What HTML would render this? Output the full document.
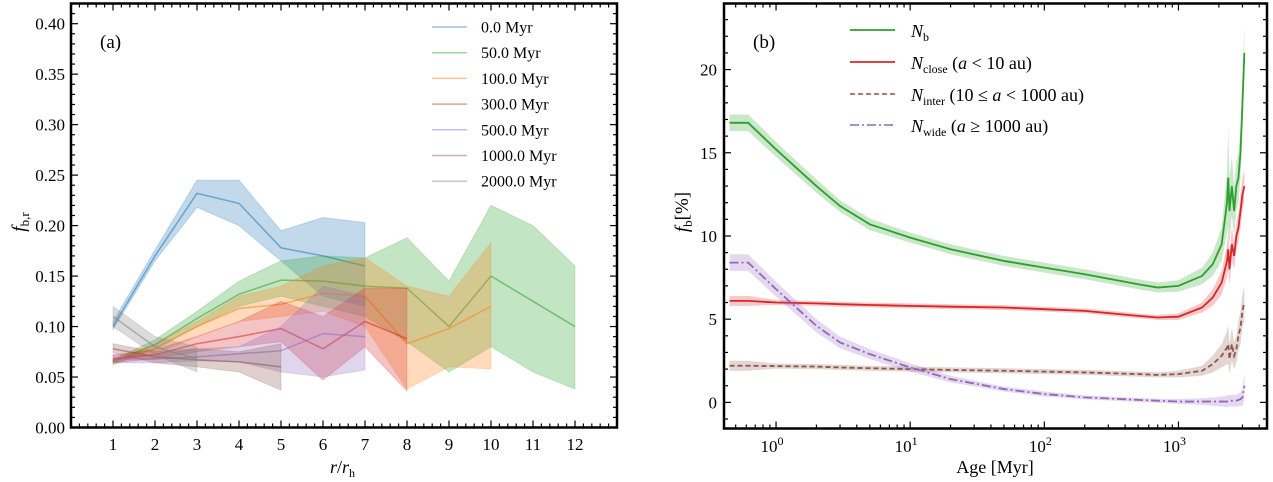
<!DOCTYPE html>
<html><head><meta charset="utf-8"><style>
html,body{margin:0;padding:0;background:#fff;}
svg{display:block;font-family:"Liberation Serif","DejaVu Serif",serif;}
</style></head><body>
<svg id="fig" width="1273" height="482" viewBox="0 0 1273 482" xmlns="http://www.w3.org/2000/svg">
<g id="pa"></g>
<g id="pb"></g>
</svg>
<script>
// ---------- Panel (a) data ----------
const seriesALabels = ["0.0 Myr","50.0 Myr","100.0 Myr","300.0 Myr","500.0 Myr","1000.0 Myr","2000.0 Myr"];
const seriesAColors = ["#1f77b4","#2ca02c","#ff7f0e","#d62728","#9467bd","#8c564b","#7f7f7f"];
const radiiA = [1,2,3,4,5,6,7,8,9,10,11,12];
const mean0 = [0.100,0.170,0.232,0.222,0.178,0.170,0.160];
const up0   = [0.105,0.176,0.245,0.245,0.195,0.208,0.203];
const lo0   = [0.097,0.165,0.218,0.200,0.165,0.130,0.120];
const mean50 = [0.065,0.082,0.108,0.132,0.146,0.145,0.140,0.138,0.100,0.150,0.125,0.100];
const up50   = [0.067,0.087,0.115,0.145,0.165,0.170,0.168,0.188,0.145,0.220,0.200,0.160];
const lo50   = [0.062,0.078,0.100,0.120,0.130,0.120,0.110,0.085,0.055,0.080,0.055,0.038];
const mean100 = [0.066,0.078,0.100,0.118,0.122,0.133,0.130,0.083,0.098,0.120];
const up100   = [0.068,0.083,0.105,0.130,0.140,0.160,0.168,0.140,0.130,0.183];
const lo100   = [0.064,0.073,0.090,0.105,0.110,0.115,0.100,0.038,0.060,0.058];
const mean300 = [0.068,0.072,0.083,0.090,0.098,0.078,0.105,0.088];
const up300   = [0.072,0.077,0.090,0.105,0.125,0.110,0.138,0.138];
const lo300   = [0.064,0.068,0.075,0.080,0.085,0.047,0.080,0.036];
const mean500 = [0.068,0.068,0.070,0.073,0.076,0.093,0.090];
const up500   = [0.072,0.072,0.078,0.080,0.100,0.140,0.130];
const lo500   = [0.064,0.064,0.066,0.065,0.055,0.050,0.057];
const mean1000 = [0.078,0.070,0.067,0.065,0.060];
const up1000   = [0.083,0.075,0.078,0.075,0.083];
const lo1000   = [0.074,0.064,0.060,0.055,0.037];
const mean2000 = [0.110,0.080,0.068];
const up2000   = [0.120,0.090,0.080];
const lo2000   = [0.100,0.072,0.055];
const xTicksA = [1,2,3,4,5,6,7,8,9,10,11,12];
const yTicksA = [0.00,0.05,0.10,0.15,0.20,0.25,0.30,0.35,0.40];

// ---------- Panel (b) data ----------
const ages = [0.45,0.62,1,2,3,5,10,20,50,100,200,500,700,1000,1500,1800,2100,2300,2350,2400,2500,2600,2700,2800,2900,3000,3100];
const nB     = [16.8,16.8,15.2,13.0,11.8,10.7,9.9,9.2,8.5,8.1,7.7,7.1,6.9,7.0,7.6,8.3,9.5,12,13.5,11.5,13,11.5,13,13.5,15,18,21];
const nClose = [6.1,6.1,6.0,5.95,5.9,5.85,5.8,5.75,5.7,5.6,5.5,5.2,5.1,5.15,5.7,6.3,7.2,8.5,9.2,8.0,9.5,8.8,10,10.5,11.5,12.5,13];
const nInter = [2.2,2.2,2.18,2.15,2.1,2.05,2.0,1.95,1.9,1.85,1.8,1.7,1.65,1.7,1.9,2.3,2.8,3.3,3.5,2.6,3.5,2.8,3.2,4.0,4.5,5.5,6.0];
const nWide  = [8.4,8.4,6.8,4.6,3.6,2.9,2.1,1.4,0.8,0.5,0.3,0.15,0.1,0.05,0.05,0.05,0.05,0.05,0.1,0.1,0.1,0.1,0.1,0.15,0.2,0.3,1.0];
const errB   = [0.5,0.5,0.45,0.4,0.35,0.35,0.3,0.3,0.3,0.3,0.3,0.3,0.3,0.35,0.5,0.7,1.0,1.8,3.0,2.0,1.8,1.5,1.5,1.5,1.5,1.5,1.5];
const errSmall = [0.3,0.3,0.15,0.15,0.15,0.15,0.15,0.15,0.15,0.15,0.15,0.15,0.15,0.2,0.3,0.5,0.7,1.0,1.2,0.9,1.0,0.8,0.8,0.9,1.0,1.0,1.0];
const errWide = [0.5,0.5,0.45,0.4,0.35,0.3,0.25,0.2,0.15,0.15,0.12,0.12,0.12,0.15,0.2,0.25,0.3,0.35,0.35,0.35,0.35,0.35,0.35,0.4,0.4,0.5,0.8];
const yTicksB = [0,5,10,15,20];
const xTicksBExp = [0,1,2,3];

const NS="http://www.w3.org/2000/svg";
function mk(parent,tag,attrs){const e=document.createElementNS(NS,tag);for(const k in attrs)e.setAttribute(k,attrs[k]);parent.appendChild(e);return e;}

// ---------- Panel (a) ----------
const A={l:71,r:617,t:3.5,b:427.5,xmin:0,xmax:13,ymin:0,ymax:0.42};
const xA=v=>A.l+(v-A.xmin)/(A.xmax-A.xmin)*(A.r-A.l);
const yA=v=>A.b-(v-A.ymin)/(A.ymax-A.ymin)*(A.b-A.t);
const pa=document.getElementById('pa');
const setsA=[[mean0,up0,lo0],[mean50,up50,lo50],[mean100,up100,lo100],[mean300,up300,lo300],[mean500,up500,lo500],[mean1000,up1000,lo1000],[mean2000,up2000,lo2000]];
setsA.forEach((s,i)=>{
  const [m,u,lo]=s;const n=m.length;
  let d='';for(let j=0;j<n;j++)d+=(j?'L':'M')+xA(radiiA[j])+','+yA(u[j]);
  for(let j=n-1;j>=0;j--)d+='L'+xA(radiiA[j])+','+yA(lo[j]);d+='Z';
  const band=mk(pa,'path',{d:d,fill:seriesAColors[i],'fill-opacity':0.28,stroke:seriesAColors[i],'stroke-opacity':0.2});
  
  
  const pts=m.map((v,j)=>xA(radiiA[j])+','+yA(v)).join(' ');
  const ln=mk(pa,'polyline',{points:pts,fill:'none',stroke:seriesAColors[i],'stroke-opacity':0.55,'stroke-width':1.5});
  
  
});
for(let v=0;v<=13.001;v+=0.2){const X=xA(v);const major=Math.abs(v-Math.round(v))<1e-6&&Math.round(v)>=1&&Math.round(v)<=12;const L=major?7:4;
  mk(pa,'line',{x1:X,x2:X,y1:A.b,y2:A.b-L,stroke:'#000','stroke-width':1.2});mk(pa,'line',{x1:X,x2:X,y1:A.t,y2:A.t+L,stroke:'#000','stroke-width':1.2});}
for(let k=0;k<=42;k++){const v=k*0.01;const Y=yA(v);const major=k%5===0;const L=major?7:4;
  mk(pa,'line',{x1:A.l,x2:A.l+L,y1:Y,y2:Y,stroke:'#000','stroke-width':1.2});mk(pa,'line',{x1:A.r,x2:A.r-L,y1:Y,y2:Y,stroke:'#000','stroke-width':1.2});}
xTicksA.forEach(v=>{const t=mk(pa,'text',{x:xA(v),y:450,'font-size':17,'text-anchor':'middle'});t.textContent=v;
  });
yTicksA.forEach(v=>{const t=mk(pa,'text',{x:65,y:yA(v)+6,'font-size':17,'text-anchor':'end'});t.textContent=v.toFixed(2);
  });
mk(pa,'rect',{x:A.l,y:A.t,width:A.r-A.l,height:A.b-A.t,fill:'none',stroke:'#000','stroke-width':2.5});
seriesALabels.forEach((lab,i)=>{const Y=27+i*25.7;
  const l=mk(pa,'line',{x1:432,x2:467,y1:Y,y2:Y,stroke:seriesAColors[i],'stroke-opacity':0.45,'stroke-width':1.5});
  
  const t=mk(pa,'text',{x:481,y:Y+5.5,'font-size':16});t.textContent=lab;
  });
</script>
<script>
// ---------- Panel (b) ----------
const B={l:724,r:1267,t:3.5,b:428.5,lxmin:-0.388,lxmax:3.66,ymin:-1.57,ymax:23.97};
const xB=v=>B.l+(Math.log10(v)-B.lxmin)/(B.lxmax-B.lxmin)*(B.r-B.l);
const yB=v=>B.b-(v-B.ymin)/(B.ymax-B.ymin)*(B.b-B.t);
const pb=document.getElementById('pb');
const setsB=[[nB,errB,'#2ca02c',null,'n-b'],[nClose,errSmall,'#d62728',null,'n-close'],[nInter,errSmall,'#8c564b','5,3','n-inter'],[nWide,errWide,'#9467bd','9,3,2,3','n-wide']];
setsB.forEach(s=>{const [m,e,c,dash,nm]=s;const n=m.length;
  let d='';for(let j=0;j<n;j++)d+=(j?'L':'M')+xB(ages[j])+','+yB(m[j]+e[j]);
  for(let j=n-1;j>=0;j--)d+='L'+xB(ages[j])+','+yB(m[j]-e[j]);d+='Z';
  const band=mk(pb,'path',{d:d,fill:c,'fill-opacity':0.25});
  
  const at={points:m.map((v,j)=>xB(ages[j])+','+yB(v)).join(' '),fill:'none',stroke:c,'stroke-width':1.8};
  if(dash)at['stroke-dasharray']=dash;
  const ln=mk(pb,'polyline',at);});
for(let e=-1;e<=3;e++)for(let k=1;k<=9;k++){const v=k*Math.pow(10,e);const lg=Math.log10(v);if(lg<B.lxmin||lg>B.lxmax)continue;
  const X=xB(v);const L=k===1?7:4;
  mk(pb,'line',{x1:X,x2:X,y1:B.b,y2:B.b-L,stroke:'#000','stroke-width':1.2});mk(pb,'line',{x1:X,x2:X,y1:B.t,y2:B.t+L,stroke:'#000','stroke-width':1.2});}
for(let v=-1;v<=23;v++){const Y=yB(v);const L=v%5===0?7:4;
  mk(pb,'line',{x1:B.l,x2:B.l+L,y1:Y,y2:Y,stroke:'#000','stroke-width':1.2});mk(pb,'line',{x1:B.r,x2:B.r-L,y1:Y,y2:Y,stroke:'#000','stroke-width':1.2});}
xTicksBExp.forEach(ex=>{const t=mk(pb,'text',{x:xB(Math.pow(10,ex))-4,y:452,'font-size':17,'text-anchor':'middle'});
  t.innerHTML='10<tspan dy="-7" font-size="12">'+ex+'</tspan>';
  });
yTicksB.forEach(v=>{const t=mk(pb,'text',{x:717,y:yB(v)+6,'font-size':17,'text-anchor':'end'});t.textContent=v;
  });
mk(pb,'rect',{x:B.l,y:B.t,width:B.r-B.l,height:B.b-B.t,fill:'none',stroke:'#000','stroke-width':2.5});
</script>
<script>
const fig=document.getElementById('fig');
fig.insertAdjacentHTML('beforeend',`
<text x="100" y="48" font-size="19">(a)</text>
<text x="753" y="48" font-size="19">(b)</text>
<text x="330" y="473" font-size="18" font-style="italic">r<tspan font-style="normal">/</tspan>r<tspan font-size="12" font-style="normal" dy="4">h</tspan></text>
<text transform="translate(25,222) rotate(-90)" font-size="19" text-anchor="middle"><tspan font-style="italic">f</tspan><tspan font-size="13" dy="4">b,r</tspan></text>
<text x="995" y="473" font-size="18" text-anchor="middle">Age [Myr]</text>
<text transform="translate(688,212) rotate(-90)" font-size="19" text-anchor="middle"><tspan font-style="italic">f</tspan><tspan font-size="13" dy="4">b</tspan><tspan dy="-4">[%]</tspan></text>
<g>
<line x1="850" x2="895" y1="30" y2="30" stroke="#2ca02c" stroke-width="1.8"/>
<text x="911" y="37" font-size="18"><tspan font-style="italic">N</tspan><tspan font-size="12" dy="4">b</tspan></text>
<line x1="850" x2="895" y1="62" y2="62" stroke="#d62728" stroke-width="1.8"/>
<text x="911" y="69" font-size="18"><tspan font-style="italic">N</tspan><tspan font-size="12" dy="4">close</tspan><tspan dy="-4"> (</tspan><tspan font-style="italic">a</tspan> &lt; 10 au)</text>
<line x1="850" x2="895" y1="94" y2="94" stroke="#8c564b" stroke-width="1.6" stroke-dasharray="5,3"/>
<text x="911" y="101" font-size="18"><tspan font-style="italic">N</tspan><tspan font-size="12" dy="4">inter</tspan><tspan dy="-4"> (10 ≤ </tspan><tspan font-style="italic">a</tspan> &lt; 1000 au)</text>
<line x1="850" x2="895" y1="125" y2="125" stroke="#9467bd" stroke-width="1.6" stroke-dasharray="9,3,2,3"/>
<text x="911" y="132" font-size="18"><tspan font-style="italic">N</tspan><tspan font-size="12" dy="4">wide</tspan><tspan dy="-4"> (</tspan><tspan font-style="italic">a</tspan> ≥ 1000 au)</text>
</g>`);
</script>
</body></html>
